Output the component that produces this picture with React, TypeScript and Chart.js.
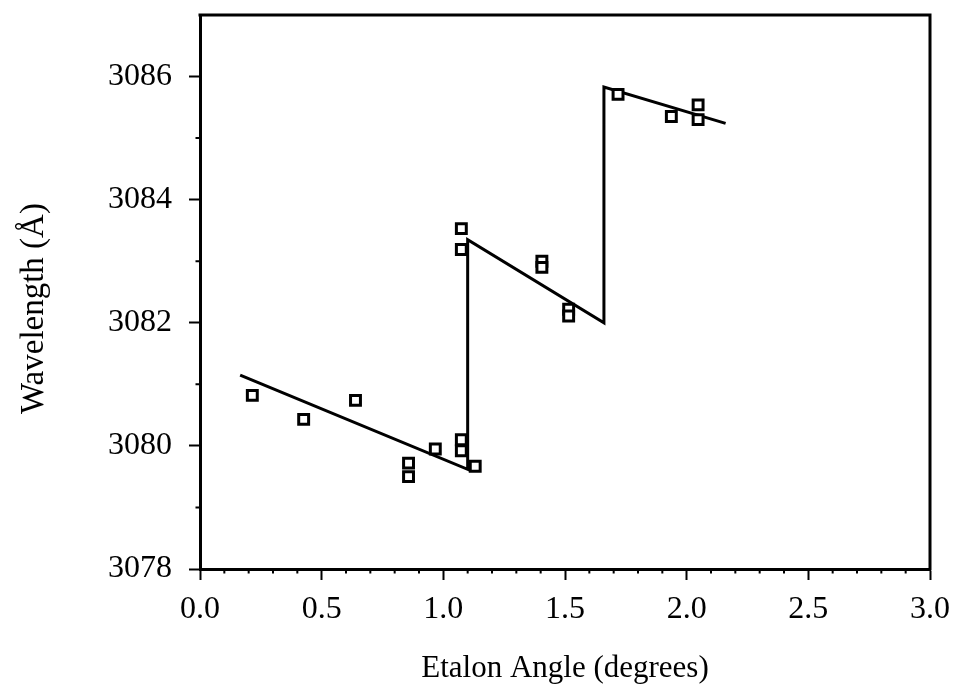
import React, { useEffect, useRef } from "react";
import { Chart, registerables } from "chart.js";

Chart.register(...registerables);

// Measured data points (Etalon angle in degrees, wavelength in Å)
const pointAngles = [
  0.215, 0.426, 0.639, 0.857, 0.857, 0.967, 1.074, 1.074, 1.131,
  1.074, 1.074, 1.405, 1.405, 1.515, 1.515, 1.718, 1.937, 2.047, 2.047,
];
const pointWavelengths = [
  3080.82, 3080.43, 3080.74, 3079.72, 3079.5, 3079.95, 3080.1, 3079.92, 3079.67,
  3083.53, 3083.19, 3083.0, 3082.9, 3082.22, 3082.11, 3085.71, 3085.35, 3085.54, 3085.3,
];

// Fitted saw-tooth line
const fitAngles = [0.165, 1.1, 1.1, 1.66, 1.66, 2.16];
const fitWavelengths = [3081.15, 3079.62, 3083.35, 3082.0, 3085.83, 3085.24];

// Axis definitions
const xMin = 0;
const xMax = 3;
const xMajorStep = 0.5;
const xMinorStep = 0.1;
const yMin = 3078;
const yMax = 3087;
const yMajorStep = 2;
const yMinorStep = 1;

const xTitle = "Etalon Angle (degrees)";
const yTitle = "Wavelength (Å)    ";

const FONT = '"Liberation Serif", "Times New Roman", serif';

export default function App() {
  const ref = useRef<HTMLCanvasElement | null>(null);

  useEffect(() => {
    if (!ref.current) return;

    const framePlugin = {
      id: "frameAndMinorTicks",
      afterDraw(chart: any) {
        const { ctx, chartArea, scales } = chart;
        ctx.save();
        ctx.strokeStyle = "#000";
        ctx.lineWidth = 3;
        ctx.beginPath();
        ctx.moveTo(chartArea.left - 1.5, chartArea.top);
        ctx.lineTo(chartArea.right, chartArea.top);
        ctx.lineTo(chartArea.right, chartArea.bottom + 1.5);
        ctx.stroke();

        ctx.lineWidth = 2;
        ctx.beginPath();
        const xs = scales.x;
        const nx = Math.round((xMax - xMin) / xMinorStep);
        for (let i = 0; i <= nx; i++) {
          const v = xMin + i * xMinorStep;
          if (Math.abs(v / xMajorStep - Math.round(v / xMajorStep)) < 1e-6) continue;
          const px = xs.getPixelForValue(v);
          ctx.moveTo(px, chartArea.bottom);
          ctx.lineTo(px, chartArea.bottom + 4.5);
        }
        const ys = scales.y;
        const ny = Math.round((yMax - yMin) / yMinorStep);
        for (let i = 0; i < ny; i++) {
          const v = yMin + i * yMinorStep;
          if ((v - yMin) % yMajorStep === 0) continue;
          const py = ys.getPixelForValue(v);
          ctx.moveTo(chartArea.left, py);
          ctx.lineTo(chartArea.left - 4.5, py);
        }
        ctx.stroke();
        ctx.restore();
      },
    };

    const chart = new Chart(ref.current, {
      type: "scatter",
      data: {
        datasets: [
          {
            label: "fit",
            data: fitAngles.map((x, i) => ({ x, y: fitWavelengths[i] })),
            showLine: true,
            borderColor: "#000",
            borderWidth: 3,
            pointRadius: 0,
            fill: false,
            order: 2,
          },
          {
            label: "data",
            data: pointAngles.map((x, i) => ({ x, y: pointWavelengths[i] })),
            showLine: false,
            pointStyle: "rect",
            pointRadius: 7,
            pointBorderWidth: 3,
            borderColor: "#000",
            backgroundColor: "#fff",
            order: 1,
          },
        ],
      },
      options: {
        animation: false,
        responsive: false,
        maintainAspectRatio: false,
        devicePixelRatio: 1,
        layout: { padding: { top: 15, right: 26, left: 0, bottom: 0 } },
        plugins: {
          legend: { display: false },
          tooltip: { enabled: false },
        },
        scales: {
          x: {
            type: "linear",
            min: xMin,
            max: xMax,
            ticks: {
              stepSize: xMajorStep,
              includeBounds: false,
              autoSkip: false,
              maxRotation: 0,
              callback: (v: any) => Number(v).toFixed(1),
              font: { family: FONT, size: 32 },
              color: "#000",
              padding: 10,
            },
            grid: {
              drawOnChartArea: false,
              tickLength: 11,
              tickWidth: 2,
              color: "#000",
            },
            border: { color: "#000", width: 3 },
            title: {
              display: true,
              text: xTitle,
              font: { family: FONT, size: 31 },
              color: "#000",
              padding: { top: 0, bottom: 6 },
            },
            afterFit(scale: any) {
              scale.height = 124;
              scale.paddingLeft = 0;
              scale.paddingRight = 0;
            },
          },
          y: {
            type: "linear",
            min: yMin,
            max: yMax,
            ticks: {
              stepSize: yMajorStep,
              includeBounds: false,
              autoSkip: false,
              callback: (v: any) => String(v),
              font: { family: FONT, size: 32 },
              color: "#000",
              padding: 17,
            },
            grid: {
              drawOnChartArea: false,
              tickLength: 11,
              tickWidth: 2,
              color: "#000",
            },
            border: { color: "#000", width: 3 },
            title: {
              display: true,
              text: yTitle,
              font: { family: FONT, size: 33 },
              color: "#000",
              padding: { top: 15, bottom: 0 },
            },
            afterFit(scale: any) {
              scale.width = 200;
              scale.paddingTop = 0;
              scale.paddingBottom = 0;
            },
          },
        },
      },
      plugins: [framePlugin],
    } as any);

    return () => chart.destroy();
  }, []);

  return (
    <div style={{ position: "absolute", left: 0, top: 0, width: 956, height: 693, background: "#fff" }}>
      <canvas ref={ref} width={956} height={693} style={{ width: 956, height: 693, display: "block" }} />
    </div>
  );
}
